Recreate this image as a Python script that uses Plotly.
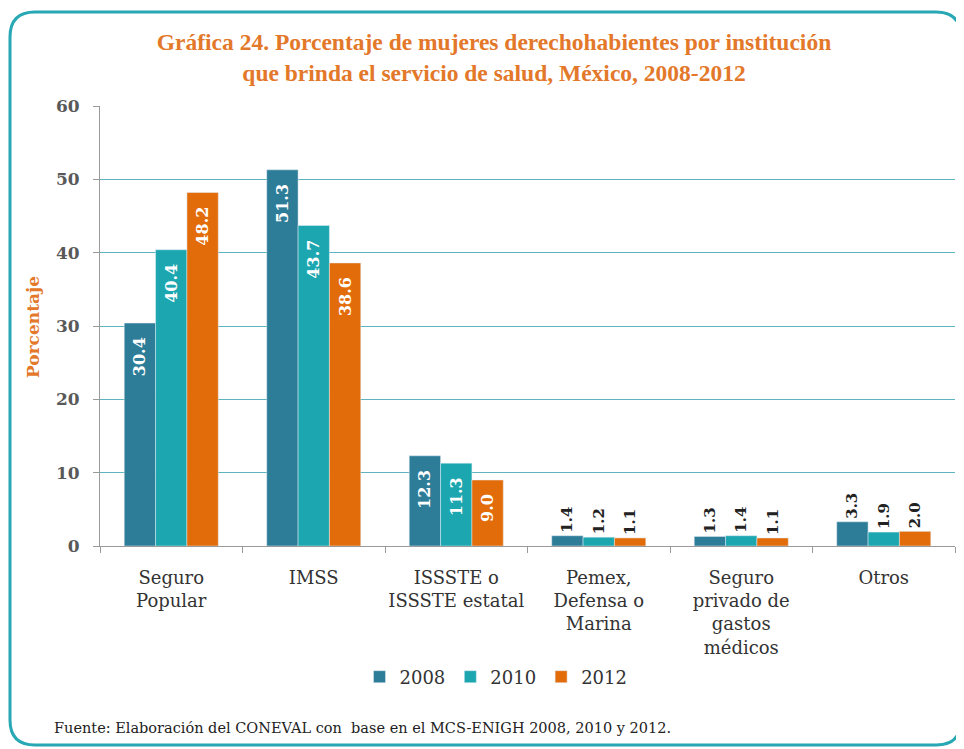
import plotly.graph_objects as go

categories = ["Seguro<br>Popular", "IMSS", "ISSSTE o<br>ISSSTE estatal",
              "Pemex,<br>Defensa o<br>Marina", "Seguro<br>privado de<br>gastos<br>médicos", "Otros"]
years = ["2008", "2010", "2012"]
v2008 = [30.4, 51.3, 12.3, 1.4, 1.3, 3.3]
v2010 = [40.4, 43.7, 11.3, 1.2, 1.4, 1.9]
v2012 = [48.2, 38.6, 9.0, 1.1, 1.1, 2.0]
colors = ["#2D7D98", "#1BA6B0", "#E36C0A"]

OFF = 8  # page body margin
W, H = 964 - OFF, 749 - OFF
L, T = 100 - OFF, 106 - OFF
R = W - (955 - OFF)
B = H - (546 - OFF)
pw, ph = W - L - R, H - T - B

def px2x(px):
    return (px - OFF - L) / pw

def py2y(py):
    return (H - B - (py - OFF)) / ph

SERIF = "DejaVu Serif"
NB = "\u00a0"

fig = go.Figure()
for name, vals, col in zip(years, [v2008, v2010, v2012], colors):
    inside = [v > 5 for v in vals]
    fig.add_trace(go.Bar(
        x=categories, y=vals, name=name, marker_color=col,
        text=[f"{v:.1f}" + (NB * 2 if ins else "") for v, ins in zip(vals, inside)],
        textposition=["inside" if ins else "outside" for ins in inside],
        insidetextanchor="end", textangle=-90, constraintext="none", cliponaxis=False,
        insidetextfont=dict(family=SERIF, size=16, color="white", weight="bold"),
        outsidetextfont=dict(family=SERIF, size=15, color="#222222", weight="bold"),
    ))

# rounded border
x0, x1, y0, y1 = px2x(10), px2x(961), py2y(745), py2y(12)
rx, ry = 25 / pw, 25 / ph
path = (f"M {x0+rx},{y1} L {x1-rx},{y1} Q {x1},{y1} {x1},{y1-ry} L {x1},{y0+ry} "
        f"Q {x1},{y0} {x1-rx},{y0} L {x0+rx},{y0} Q {x0},{y0} {x0},{y0+ry} "
        f"L {x0},{y1-ry} Q {x0},{y1} {x0+rx},{y1} Z")
fig.add_shape(type="path", path=path, xref="paper", yref="paper",
              line=dict(color="#27A8B4", width=3), layer="below")

fig.update_layout(
    width=W, height=H, margin=dict(l=L, r=R, t=T, b=B, autoexpand=False),
    paper_bgcolor="white", plot_bgcolor="white",
    barmode="group", bargap=0.34, bargroupgap=0,
    title=dict(text="Gráfica 24. Porcentaje de mujeres derechohabientes por institución<br>que brinda el servicio de salud, México, 2008-2012",
               x=px2x(494), xref="paper", xanchor="center", y=1 - (50 - OFF) / H, yanchor="middle",
               font=dict(family="Liberation Serif", size=23.5, color="#E3782A", weight="bold")),
    font=dict(family=SERIF, color="#333333"),
    legend=dict(orientation="h", x=px2x(496), xanchor="center", y=py2y(677), yanchor="middle",
                font=dict(family=SERIF, size=18, color="#333333"),
                itemwidth=30, tracegroupgap=0),
    xaxis=dict(showline=True, linecolor="#9A9A9A", linewidth=1, tickangle=0,
               ticks="outside", tickson="boundaries", ticklen=6, tickcolor="#9A9A9A",
               ticklabelstandoff=15,
               tickfont=dict(family=SERIF, size=18, color="#333333")),
    yaxis=dict(range=[0, 60], dtick=10, showline=True, linecolor="#9A9A9A", linewidth=1,
               ticks="outside", ticklen=6, tickcolor="#9A9A9A", ticklabelstandoff=10,
               gridcolor="#5DB3BF", gridwidth=1, zeroline=False,
               tickfont=dict(family=SERIF, size=17, color="#595959", weight="bold")),
)

fig.add_annotation(text="<b>Porcentaje</b>", textangle=-90,
                   xref="paper", yref="paper", x=px2x(33), y=py2y(327),
                   xanchor="center", yanchor="middle", showarrow=False,
                   font=dict(family=SERIF, size=17, color="#E3782A"))

fig.add_annotation(text="Fuente: Elaboración del CONEVAL con  base en el MCS-ENIGH 2008, 2010 y 2012.",
                   xref="paper", yref="paper", x=px2x(52), y=py2y(728),
                   xanchor="left", yanchor="middle", showarrow=False,
                   font=dict(family=SERIF, size=14.5, color="#222222"))

fig.write_html("out.html")
